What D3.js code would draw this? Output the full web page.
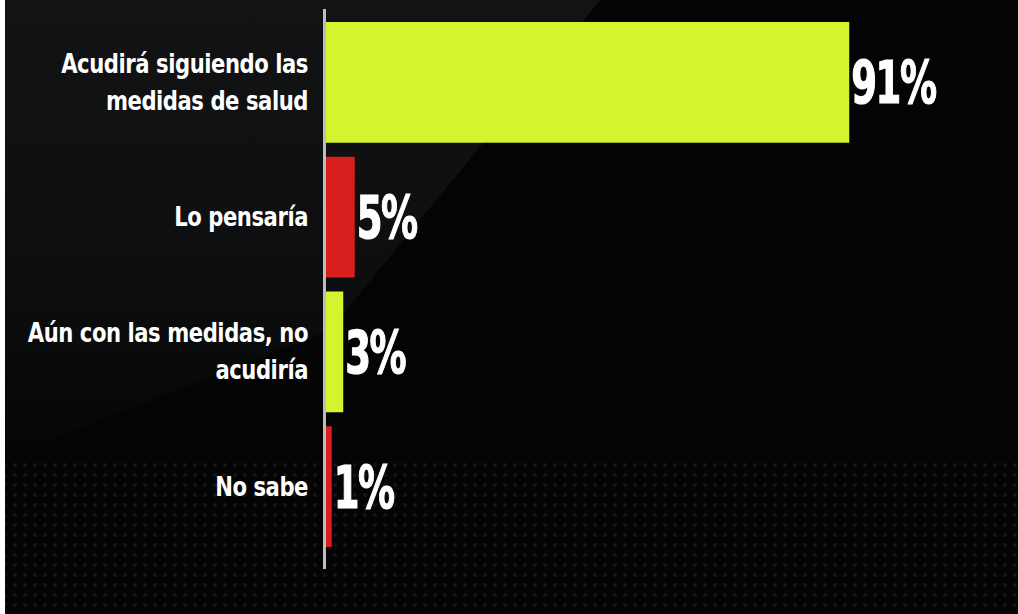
<!DOCTYPE html>
<html>
<head>
<meta charset="utf-8">
<script src="https://cdn.jsdelivr.net/npm/d3@7"></script>
<style>
  html, body { margin: 0; padding: 0; background: #000; }
  svg { display: block; }
</style>
</head>
<body>
<svg id="chart" width="1018" height="614"></svg>
<script>
const categories = [
  ["Acudirá siguiendo las", "medidas de salud"],
  ["Lo pensaría"],
  ["Aún con las medidas, no", "acudiría"],
  ["No sabe"]
];
const values = [91, 5, 3, 1];
const labels = ["91%", "5%", "3%", "1%"];
const colors = ["#d4f52e", "#d81e1e", "#d4f52e", "#d81e1e"];

(function () {
  const svg = d3.select('#chart');
  const width = 1018, height = 614;
  const font = '"DejaVu Sans Condensed", "Liberation Sans Narrow", sans-serif';

  // background
  const defs = svg.append('defs');
  const dots = defs.append('pattern')
    .attr('id', 'dots')
    .attr('width', 10)
    .attr('height', 10)
    .attr('patternUnits', 'userSpaceOnUse');
  dots.append('circle')
    .attr('cx', 5).attr('cy', 5).attr('r', 2)
    .attr('fill', '#141414');

  const fade = defs.append('linearGradient')
    .attr('id', 'fade')
    .attr('x1', 0).attr('y1', 0).attr('x2', 0).attr('y2', 1);
  fade.append('stop').attr('offset', 0).attr('stop-color', '#121315');
  fade.append('stop').attr('offset', 0.6).attr('stop-color', '#0d0e0f');
  fade.append('stop').attr('offset', 1).attr('stop-color', '#050505');

  svg.append('rect')
    .attr('width', width).attr('height', height)
    .attr('fill', '#040404');
  svg.append('path')
    .attr('d', 'M0,0 L600,0 L330,330 L0,460 Z')
    .attr('fill', 'url(#fade)');
  svg.append('rect')
    .attr('x', 0).attr('y', 460)
    .attr('width', width).attr('height', height - 460)
    .attr('fill', 'url(#dots)');
  svg.append('rect')
    .attr('x', 0).attr('y', 0)
    .attr('width', 5).attr('height', height)
    .attr('fill', '#ffffff');

  const x = d3.scaleLinear()
    .domain([0, 100])
    .range([326, 901]);

  const y = d3.scaleBand()
    .domain(d3.range(values.length))
    .range([22, 547])
    .paddingInner(0.104)
    .paddingOuter(0);

  svg.append('line')
    .attr('x1', 324.5).attr('x2', 324.5)
    .attr('y1', 9).attr('y2', 569)
    .attr('stroke', '#bdbdbd')
    .attr('stroke-width', 3);

  svg.append('g')
    .selectAll('rect')
    .data(values)
    .join('rect')
      .attr('x', x(0))
      .attr('y', (d, i) => y(i))
      .attr('width', d => x(d) - x(0))
      .attr('height', y.bandwidth())
      .attr('fill', (d, i) => colors[i]);

  // value labels, squeezed to look like a condensed face
  svg.append('g')
    .selectAll('text')
    .data(values)
    .join('text')
      .attr('transform', (d, i) =>
        `translate(${x(d) + 2},${y(i) + y.bandwidth() / 2 + 21}) scale(0.71,1)`)
      .attr('fill', '#fff')
      .attr('stroke', '#fff')
      .attr('stroke-width', 1.2)
      .style('font-family', font)
      .style('font-weight', 'bold')
      .style('font-size', '58px')
      .style('letter-spacing', '-2px')
      .text((d, i) => labels[i]);

  const catG = svg.append('g')
    .selectAll('text')
    .data(categories)
    .join('text')
      .attr('transform', 'translate(308,0) scale(0.87,1)')
      .attr('text-anchor', 'end')
      .attr('fill', '#fff')
      .style('font-family', font)
      .style('font-weight', 'bold')
      .style('font-size', '27px')
      .style('letter-spacing', '-0.5px');

  catG.each(function (lines, i) {
    const cy = y(i) + y.bandwidth() / 2;
    const lh = 37;
    const first = cy + 9 - (lines.length - 1) * lh / 2;
    d3.select(this).selectAll('tspan')
      .data(lines)
      .join('tspan')
        .attr('x', 0)
        .attr('y', (d, j) => first + j * lh)
        .text(d => d);
  });
})();
</script>
</body>
</html>
